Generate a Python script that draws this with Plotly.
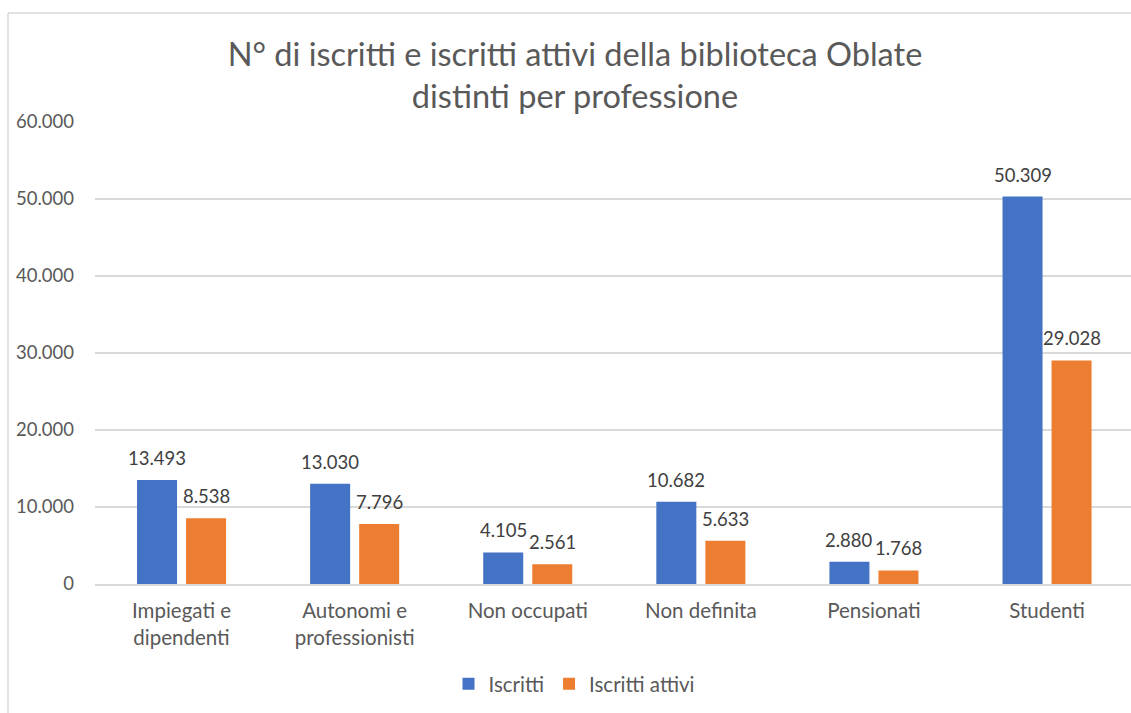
import plotly.graph_objects as go

categories = ["Impiegati e<br>dipendenti", "Autonomi e<br>professionisti", "Non occupati",
              "Non definita", "Pensionati", "Studenti"]
iscritti = [13493, 13030, 4105, 10682, 2880, 50309]
iscritti_attivi = [8538, 7796, 2561, 5633, 1768, 29028]
y_ticks = [0, 10000, 20000, 30000, 40000, 50000, 60000]

W, H = 1131, 713
ML, MR, MT, MB = 95, 0, 122, 129
PW, PH = W - ML - MR, H - MT - MB
CAT_PX = 173.1
BARGAP, GROUPGAP = 0.4335, 0.184

FONT = "Lato, Calibri, Carlito, sans-serif"
GRID = "#d9d9d9"

series = [("Iscritti", iscritti, "#4472C4"), ("Iscritti attivi", iscritti_attivi, "#ED7D31")]

fig = go.Figure()
slot_px = (1 - BARGAP) * CAT_PX / len(series)
for i, (name, vals, color) in enumerate(series):
    fig.add_trace(go.Bar(
        x=categories, y=vals, name=name,
        marker=dict(color=color, line=dict(width=0)),
    ))
    xshift = (i - (len(series) - 1) / 2) * slot_px
    for cat, v in zip(categories, vals):
        fig.add_annotation(
            x=cat, y=v, xref="x", yref="y",
            text=f"{v:,}".replace(",", "."),
            showarrow=False, xshift=xshift, yshift=22,
            xanchor="center", yanchor="middle",
            font=dict(size=18.5, color="#404040", family=FONT),
        )

# chart border (left and top edges, the rest lies outside the picture)
bx = (8 - ML) / PW
by_top = (H - MB - 13) / PH
by_bot = (H - MB - H - 5) / PH
fig.add_shape(type="line", xref="paper", yref="paper", x0=bx, x1=bx, y0=by_bot, y1=by_top,
              line=dict(color=GRID, width=1.5), layer="below")
fig.add_shape(type="line", xref="paper", yref="paper", x0=bx, x1=1.05, y0=by_top, y1=by_top,
              line=dict(color=GRID, width=1.5), layer="below")

fig.update_layout(
    width=W, height=H,
    margin=dict(l=ML, r=MR, t=MT, b=MB, pad=0),
    paper_bgcolor="white", plot_bgcolor="white",
    separators=",.",
    barmode="group", bargap=BARGAP, bargroupgap=GROUPGAP,
    font=dict(family=FONT, color="#595959", size=18),
    title=dict(
        text="N° di iscritti e iscritti attivi della biblioteca Oblate<br>distinti per professione",
        font=dict(size=32.5, color="#595959", family=FONT),
        x=575 / W, xref="container", xanchor="center",
        y=1 - 66 / H, yref="container", yanchor="top",
    ),
    legend=dict(
        orientation="h", x=574 / W, xanchor="center", xref="container",
        y=1 - 684 / H, yanchor="middle", yref="container",
        font=dict(size=20.5, color="#595959", family=FONT),
        itemwidth=30, traceorder="normal",
    ),
    showlegend=True,
)
fig.update_xaxes(
    range=[-0.5, -0.5 + PW / CAT_PX],
    showgrid=False, showline=True, linecolor=GRID, linewidth=1.5,
    ticks="", tickfont=dict(size=20.5, color="#595959", family=FONT),
    ticklabelstandoff=8, fixedrange=True,
)
fig.update_yaxes(
    range=[0, 60000], tickvals=y_ticks, tickformat=",d",
    showgrid=True, gridcolor=GRID, gridwidth=1.5, zeroline=False,
    showline=False, ticks="", ticklabelstandoff=20,
    tickfont=dict(size=18.5, color="#595959", family=FONT),
)

fig.write_html("out.html", config={"displayModeBar": False},
               post_script="document.body.style.margin='0';")
